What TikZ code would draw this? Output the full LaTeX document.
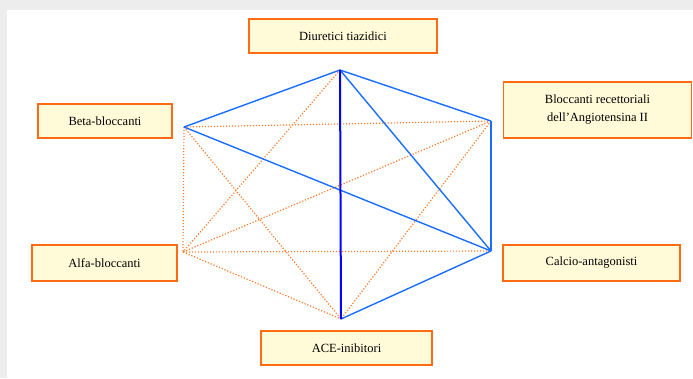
\documentclass[tikz,border=0pt]{standalone}
\usepackage{fontspec}
\setmainfont{Liberation Serif}
\definecolor{frame}{HTML}{EDEDED}
\definecolor{boxfill}{HTML}{FFFBD8}
\definecolor{boxline}{HTML}{FF6A13}
\definecolor{edgeblue}{HTML}{1A6EFF}
\definecolor{edgeorange}{HTML}{FF7A2A}
\tikzset{
  drug/.style={draw=boxline, line width=1.4pt, fill=boxfill, inner sep=0pt,
    font=\fontsize{12.5}{18}\selectfont, align=center},
  solidlink/.style={draw=edgeblue, line width=1.4pt},
  strong/.style={draw=blue, line width=2pt},
  dotlink/.style={draw=edgeorange, line width=1.2pt, dash pattern=on 1.2pt off 1.8pt},
}
\begin{document}
\begin{tikzpicture}[x=1pt,y=-1pt]
\useasboundingbox (0,0) rectangle (693,378);
\fill[frame] (0,0) rectangle (693,378);
\fill[white] (7,10) rectangle (693,378);

\node[drug, minimum width=188pt, minimum height=34pt] (dt) at (343,36) {Diuretici tiazidici};
\node[drug, minimum width=134pt, minimum height=34pt] (bb) at (105,121) {Beta-bloccanti};
\node[drug, minimum width=188pt, minimum height=56pt] (arb) at (597.5,110) {Bloccanti recettoriali\\dell’Angiotensina II};
\node[drug, minimum width=145pt, minimum height=36pt] (ab) at (104.5,263) {Alfa-bloccanti};
\node[drug, minimum width=177pt, minimum height=36pt] (ca) at (591.5,263) {Calcio-antagonisti};
\node[drug, minimum width=171pt, minimum height=34pt] (ace) at (346.5,348) {ACE-inibitori};

\coordinate (T) at (340,70);
\coordinate (B) at (184,127);
\coordinate (R) at (491,121);
\coordinate (A) at (183,252);
\coordinate (C) at (491,251);
\coordinate (E) at (341,319);

\draw[dotlink] (T) -- (A);
\draw[dotlink] (B) -- (R);
\draw[dotlink] (B) -- (A);
\draw[dotlink] (B) -- (E);
\draw[dotlink] (R) -- (A);
\draw[dotlink] (R) -- (E);
\draw[dotlink] (A) -- (C);
\draw[dotlink] (A) -- (E);

\draw[solidlink] (T) -- (B);
\draw[solidlink] (T) -- (R);
\draw[solidlink] (T) -- (C);
\draw[solidlink] (B) -- (C);
\draw[solidlink] (R) -- (C);
\draw[solidlink] (C) -- (E);
\draw[strong] (T) -- (E);
\end{tikzpicture}
\end{document}
